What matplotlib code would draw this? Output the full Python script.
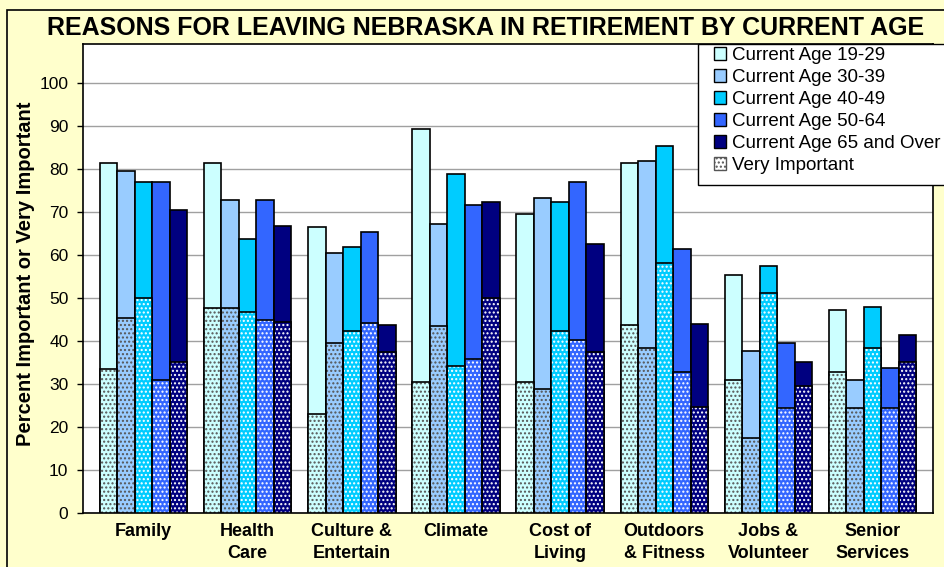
import numpy as np
import matplotlib
matplotlib.use("Agg")
import matplotlib.pyplot as plt
from matplotlib.patches import Patch, Rectangle

plt.rcParams['font.family'] = ['Liberation Sans', 'DejaVu Sans']
plt.rcParams['hatch.linewidth'] = 1.0

categories = ["Family", "Health\nCare", "Culture &\nEntertain", "Climate",
              "Cost of\nLiving", "Outdoors\n& Fitness", "Jobs &\nVolunteer",
              "Senior\nServices"]
series = ["Current Age 19-29", "Current Age 30-39", "Current Age 40-49",
          "Current Age 50-64", "Current Age 65 and Over"]

# percent important or very important (total bar height)
total_19_29 = [81.3, 81.3, 66.5, 89.2, 69.4, 81.3, 55.3, 47.1]
total_30_39 = [79.5, 72.7, 60.4, 67.2, 73.3, 81.7, 37.7, 30.9]
total_40_49 = [76.9, 63.6, 61.9, 78.8, 72.2, 85.2, 57.5, 47.8]
total_50_64 = [76.9, 72.7, 65.4, 71.5, 77.0, 61.4, 39.5, 33.7]
total_65_up = [70.5, 66.6, 43.8, 72.2, 62.6, 43.9, 35.2, 41.3]

# percent very important (dotted part)
vi_19_29 = [33.4, 47.7, 23.0, 30.5, 30.5, 43.8, 30.9, 32.7]
vi_30_39 = [45.3, 47.7, 39.5, 43.5, 28.8, 38.4, 17.5, 24.4]
vi_40_49 = [49.9, 46.7, 42.4, 34.1, 42.4, 58.2, 51.1, 38.4]
vi_50_64 = [30.9, 44.9, 44.1, 35.9, 40.2, 32.7, 24.4, 24.4]
vi_65_up = [35.2, 44.3, 37.4, 49.9, 37.4, 24.7, 29.4, 35.1]

totals = [total_19_29, total_30_39, total_40_49, total_50_64, total_65_up]
vis = [vi_19_29, vi_30_39, vi_40_49, vi_50_64, vi_65_up]
colors = ["#CCFFFF", "#99CCFF", "#00CCFF", "#3366FF", "#000080"]
dot_colors = ["#555555", "#555555", "white", "white", "white"]

fig = plt.figure(figsize=[9.44, 5.67], dpi=100)
fig.patch.set_facecolor("#FFFFCC")
# chart area border
fig.patches.append(Rectangle((7 / 944, -0.1), 1.2, 1 - 10 / 567 + 0.1,
                             transform=fig.transFigure, fill=False,
                             edgecolor="black", lw=1.2, zorder=0))

ax = fig.add_axes([83 / 944, 1 - 513 / 567, 850 / 944, 469 / 567])
ax.set_facecolor("white")

x = np.arange(len(categories))
w = 0.168
for i in range(5):
    pos = x + (i - 2) * w
    ax.bar(pos, totals[i], w, color=colors[i], edgecolor="black", lw=1.2, zorder=3)
    ax.bar(pos, vis[i], w, color=colors[i], edgecolor=dot_colors[i], hatch="....",
           lw=0, zorder=4)
    ax.bar(pos, vis[i], w, fill=False, edgecolor="black", lw=1.2, zorder=5)

ax.set_xlim(-0.58, 7.58)
ax.set_ylim(0, 109)
ax.set_yticks(range(0, 101, 10))
ax.set_xticks(x)
ax.set_xticklabels(categories, fontsize=13, fontweight="bold", linespacing=1.4)
ax.tick_params(axis="x", length=0, pad=7)
ax.tick_params(axis="y", length=4.5, width=1, pad=6, labelsize=12.5)
ax.grid(axis="y", color="#A0A0A0", lw=1, zorder=0)
ax.set_axisbelow(True)
for s in ax.spines.values():
    s.set_color("black")
    s.set_linewidth(1.2)

ax.set_ylabel("Percent Important or Very Important", fontsize=14.5, fontweight="bold")
ax.yaxis.set_label_coords(-48 / 850, (513 - 274) / 469)

fig.text(486 / 944, 1 - 28 / 567, "REASONS FOR LEAVING NEBRASKA IN RETIREMENT BY CURRENT AGE",
         ha="center", va="center", fontsize=18, fontweight="bold")

# legend box, runs off the right edge like the original
fig.patches.append(Rectangle((698 / 944, 1 - 185 / 567), 0.5, 141 / 567,
                             transform=fig.transFigure, facecolor="white",
                             edgecolor="black", lw=1, zorder=8))
handles = [Patch(facecolor=c, edgecolor="black", lw=1) for c in colors]
handles.append(Patch(facecolor="white", edgecolor="#555555", hatch="....", lw=1))
leg = fig.legend(handles, series + ["Very Important"], loc="upper left",
                 bbox_to_anchor=(714 / 944, 1 - 47 / 567), fontsize=13.5,
                 frameon=False, borderpad=0, labelspacing=0.27,
                 handlelength=0.65, handleheight=0.65, handletextpad=0.3,
                 borderaxespad=0)
leg.set_zorder(10)

fig.savefig("out.png", dpi=100, facecolor=fig.get_facecolor())
